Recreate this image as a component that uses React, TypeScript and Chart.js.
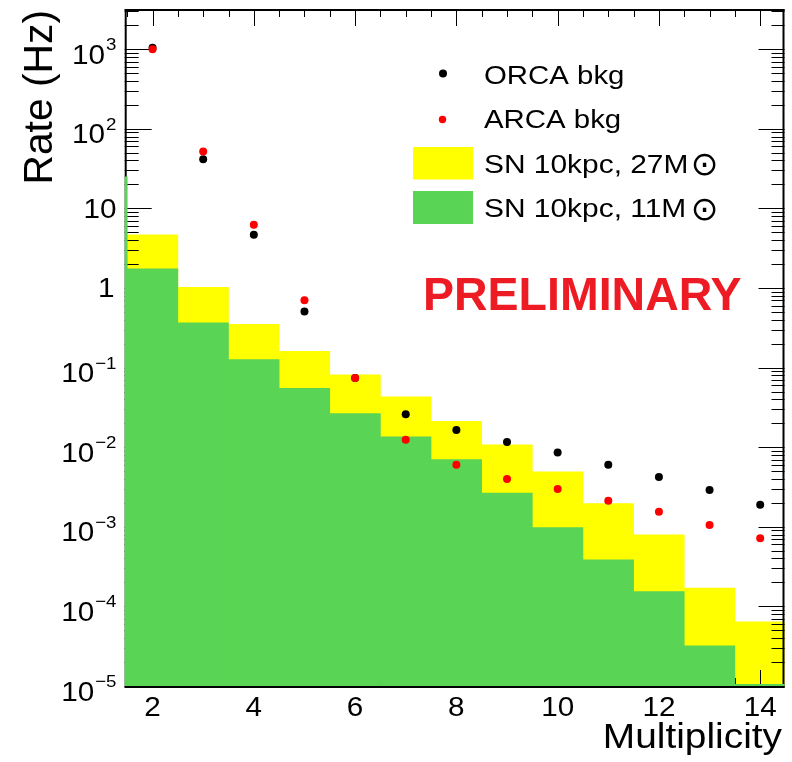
import React, { useEffect, useRef } from 'react';
import { Chart, registerables } from 'chart.js';

Chart.register(...registerables);

// ---------------- data ----------------
const multiplicity = [1, 2, 3, 4, 5, 6, 7, 8, 9, 10, 11, 12, 13, 14];
const sn27M = [null, 4.67, 1.02, 0.35, 0.16, 0.081, 0.043, 0.0211, 0.0107, 0.0049, 0.00196, 0.00079, 0.00017, 0.000064];
const sn11M = [25, 1.74, 0.366, 0.126, 0.055, 0.0264, 0.0135, 0.007, 0.00265, 0.00098, 0.000385, 0.000154, 0.000032, 0.0000105];

const bkgMultiplicity = [2, 3, 4, 5, 6, 7, 8, 9, 10, 11, 12, 13, 14];
const orcaBkg = [1040, 41.3, 4.67, 0.506, 0.074, 0.0259, 0.0164, 0.0116, 0.0086, 0.006, 0.00422, 0.0029, 0.00189];
const arcaBkg = [1000, 52, 6.24, 0.7, 0.0742, 0.0124, 0.006, 0.004, 0.00298, 0.00212, 0.00155, 0.00105, 0.00072];

const xTickValues = [2, 4, 6, 8, 10, 12, 14];
const yTickExponents = [-5, -4, -3, -2, -1, 0, 1, 2, 3];

const xTitle = 'Multiplicity';
const yTitle = 'Rate (Hz)';
const watermark = 'PRELIMINARY';
const legendLabels = ['ORCA bkg', 'ARCA bkg', 'SN 10kpc, 27M', 'SN 10kpc, 11M'];
const solarSymbol = '\u2299';

const YELLOW = '#ffff00';
const GREEN = '#59d454';
const RED = '#ff0000';
const BLACK = '#000000';
const FONT = '"Liberation Sans", Arial, Helvetica, sans-serif';

function drawText(
  ctx: CanvasRenderingContext2D,
  text: string,
  x: number,
  y: number,
  size: number,
  align: 'left' | 'center' | 'right' = 'left',
  sx = 1.1,
  weight = 'normal',
  color = '#000',
  family = FONT
) {
  ctx.save();
  ctx.font = `${weight} ${size}px ${family}`;
  const w = ctx.measureText(text).width * sx;
  const x0 = align === 'center' ? x - w / 2 : align === 'right' ? x - w : x;
  ctx.translate(x0, y);
  ctx.scale(sx, 1);
  ctx.textAlign = 'left';
  ctx.textBaseline = 'alphabetic';
  ctx.fillStyle = color;
  ctx.fillText(text, 0, 0);
  ctx.restore();
  return w;
}

function measure(ctx: CanvasRenderingContext2D, text: string, size: number, sx = 1.1) {
  ctx.save();
  ctx.font = `normal ${size}px ${FONT}`;
  const w = ctx.measureText(text).width * sx;
  ctx.restore();
  return w;
}

function line(ctx: CanvasRenderingContext2D, x1: number, y1: number, x2: number, y2: number) {
  ctx.beginPath();
  ctx.moveTo(x1, y1);
  ctx.lineTo(x2, y2);
  ctx.stroke();
}

function drawFrameAndTicks(chart: any) {
  const { ctx, chartArea: a, scales } = chart;
  const x = scales.x;
  const y = scales.y;
  ctx.save();
  ctx.strokeStyle = '#000';
  ctx.lineWidth = 1;
  // y ticks (log)
  for (let e = yTickExponents[0] - 1; e <= yTickExponents[yTickExponents.length - 1] + 1; e++) {
    for (let m = 1; m <= 9; m++) {
      const v = m * Math.pow(10, e);
      if (v < y.min * 0.999 || v > y.max) continue;
      const py = Math.round(y.getPixelForValue(v)) + 0.5;
      const major = m === 1;
      line(ctx, a.left, py, a.left + (major ? 27 : 14), py);
      line(ctx, a.right - (major ? 26 : 13), py, a.right, py);
    }
  }
  // x ticks
  for (let v = 1.5; v <= 14.5; v += 0.5) {
    if (v < x.min || v > x.max) continue;
    const major = xTickValues.includes(v);
    const px = Math.round(x.getPixelForValue(v)) + 0.5;
    line(ctx, px, a.top, px, a.top + (major ? 17 : 8));
    line(ctx, px, a.bottom, px, a.bottom - (major ? 16 : 8));
  }
  // frame
  ctx.lineWidth = 2;
  line(ctx, a.left + 1, a.top, a.left + 1, a.bottom + 2);
  line(ctx, a.left, a.top + 1, a.right, a.top + 1);
  line(ctx, a.right - 1, a.top, a.right - 1, a.bottom + 2);
  line(ctx, a.left, a.bottom + 1, a.right, a.bottom + 1);
  ctx.restore();
}

function drawLabels(chart: any) {
  const { ctx, scales } = chart;
  const x = scales.x;
  const y = scales.y;
  // x tick labels
  xTickValues.forEach((v) => {
    drawText(ctx, String(v), x.getPixelForValue(v), 716, 27, 'center', 1.1);
  });
  // y tick labels
  const rightEdge = 116.5;
  yTickExponents.forEach((e) => {
    const py = y.getPixelForValue(Math.pow(10, e));
    if (e === 0) {
      drawText(ctx, '1', rightEdge - 2, py + 9.5, 27, 'right', 1.1);
    } else if (e === 1) {
      drawText(ctx, '10', rightEdge, py + 9.5, 27, 'right', 1.1);
    } else {
      const sup = e < 0 ? '\u2212' + String(-e) : String(e);
      const supW = measure(ctx, sup, 17, 1.1);
      drawText(ctx, sup, rightEdge - supW, py + 1, 17, 'left', 1.1);
      drawText(ctx, '10', rightEdge - supW - 1, py + 14.5, 27, 'right', 1.1);
    }
  });
  // axis titles
  drawText(ctx, xTitle, 782, 748, 35, 'right', 1.11);
  ctx.save();
  ctx.translate(51.7, 10);
  ctx.rotate(-Math.PI / 2);
  drawText(ctx, yTitle, 0, 0, 40, 'right', 1.02);
  ctx.restore();

  // watermark
  drawText(ctx, watermark, 423, 310, 46.5, 'left', 1.0, 'bold', '#ed1c24');

  // legend
  ctx.save();
  ctx.fillStyle = BLACK;
  ctx.beginPath();
  ctx.arc(443, 73.5, 4, 0, Math.PI * 2);
  ctx.fill();
  ctx.fillStyle = RED;
  ctx.beginPath();
  ctx.arc(442.5, 119.5, 3.7, 0, Math.PI * 2);
  ctx.fill();
  ctx.fillStyle = YELLOW;
  ctx.fillRect(413, 147, 60, 32.5);
  ctx.fillStyle = GREEN;
  ctx.fillRect(413, 191, 60, 33);
  ctx.restore();
  drawText(ctx, legendLabels[0], 484, 83.5, 26, 'left', 1.13);
  drawText(ctx, legendLabels[1], 484, 127.5, 26, 'left', 1.13);
  drawText(ctx, legendLabels[2], 484, 173, 26, 'left', 1.15);
  drawText(ctx, legendLabels[3], 484, 217, 26, 'left', 1.15);
  [166, 211].forEach((cy) => {
    ctx.save();
    ctx.font = `normal 33px "DejaVu Sans"`;
    ctx.textAlign = 'center';
    ctx.textBaseline = 'middle';
    ctx.fillStyle = '#000';
    ctx.fillText(solarSymbol, 704.5, cy);
    ctx.restore();
  });
}

const axesPlugin = {
  id: 'rootAxes',
  beforeDatasetDraw(chart: any, args: any) {
    const ds = chart.data.datasets[args.index];
    if (ds && ds.label === legendLabels[3]) drawFrameAndTicks(chart);
  },
  afterDraw(chart: any) {
    drawLabels(chart);
  },
};

export default function App() {
  const ref = useRef<HTMLCanvasElement | null>(null);
  useEffect(() => {
    if (!ref.current) return;
    const chart = new Chart(ref.current, {
      type: 'bar',
      data: {
        datasets: [
          {
            type: 'scatter',
            label: legendLabels[1],
            data: bkgMultiplicity.map((m, i) => ({ x: m, y: arcaBkg[i] })),
            backgroundColor: RED,
            pointBackgroundColor: RED,
            pointBorderWidth: 0,
            pointRadius: 4,
            order: 0,
          } as any,
          {
            type: 'scatter',
            label: legendLabels[0],
            data: bkgMultiplicity.map((m, i) => ({ x: m, y: orcaBkg[i] })),
            backgroundColor: BLACK,
            pointBackgroundColor: BLACK,
            pointBorderWidth: 0,
            pointRadius: 4,
            order: 1,
          } as any,
          {
            type: 'bar',
            label: legendLabels[3],
            data: multiplicity.map((m, i) => ({ x: m, y: sn11M[i] })),
            backgroundColor: GREEN,
            borderWidth: 0,
            barPercentage: 1,
            categoryPercentage: 1,
            grouped: false,
            order: 2,
          } as any,
          {
            type: 'bar',
            label: legendLabels[2],
            data: multiplicity.map((m, i) => ({ x: m, y: sn27M[i] })),
            backgroundColor: YELLOW,
            borderWidth: 0,
            barPercentage: 1,
            categoryPercentage: 1,
            grouped: false,
            order: 3,
          } as any,
        ],
      },
      options: {
        animation: false,
        responsive: false,
        devicePixelRatio: 1,
        layout: { padding: { left: 124.7, right: 7.5, top: 9, bottom: 76 } },
        scales: {
          x: { type: 'linear', min: 1.45, max: 14.48, offset: false, display: false },
          y: { type: 'logarithmic', min: 1e-5, max: Math.pow(10, 3.505), display: false },
        },
        plugins: {
          legend: { display: false },
          tooltip: { enabled: false },
        },
      },
      plugins: [axesPlugin],
    });
    return () => chart.destroy();
  }, []);
  return (
    <div style={{ position: 'absolute', left: 0, top: 0, width: 792, height: 762, background: '#fff' }}>
      <canvas ref={ref} width={792} height={762} style={{ display: 'block' }} />
    </div>
  );
}
